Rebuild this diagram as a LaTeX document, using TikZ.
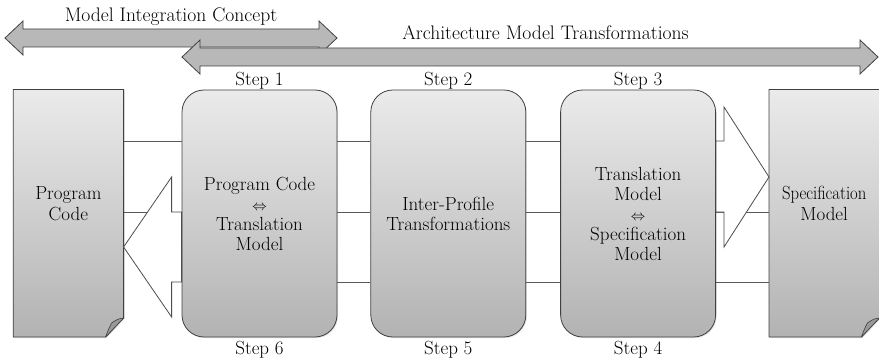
\documentclass[tikz,border=0pt]{standalone}
\usepackage{amsmath,amssymb}
\usepackage{graphicx}
\usepackage{tikz}
\usetikzlibrary{positioning,backgrounds,shadows}

\begin{document}
\begin{tikzpicture}[x=1pt, y=-1pt, font=\fontsize{19}{20}\selectfont, stepbox/.style={rectangle,draw=black!75,line width=0.8pt,rounded corners=22pt,top color=black!8,bottom color=black!30,minimum width=155pt,minimum height=247pt,align=center,drop shadow={shadow xshift=1pt,shadow yshift=-1pt,fill=black!25}}, docnode/.style={rectangle,minimum width=110pt,minimum height=228pt,align=center,font=\fontsize{19}{21}\selectfont}, docshade/.style={draw=black!75,line width=0.8pt,top color=black!8,bottom color=black!30,drop shadow={shadow xshift=1pt,shadow yshift=-1pt,fill=black!25}}, fold/.style={draw=black!75,line width=0.6pt,fill=black!40,line join=round}, steplabel/.style={inner sep=0pt}, spanlabel/.style={anchor=base,font=\fontsize{19.6}{22}\selectfont}, link/.style={draw=black!65,line width=0.8pt}, blockarrow/.style={draw=black!70,line width=0.8pt,fill=white}, spanarrow/.style={draw=black!75,line width=0.8pt,fill=black!28}]
\useasboundingbox (0,0) rectangle (879,361);
% the two spans on top
\draw[spanarrow] (5,38) -- (23,21) -- (23,29) -- (319,29) -- (319,21) -- (337,38) -- (319,55) -- (319,47) -- (23,47) -- (23,55) -- cycle;
\draw[spanarrow] (182,57) -- (200,40) -- (200,48) -- (860,48) -- (860,40) -- (878,57) -- (860,74) -- (860,66) -- (200,66) -- (200,74) -- cycle;
\node[spanlabel] (concept) at (171,21.7) {Model Integration Concept};
\node[spanlabel] (archi) at (545.5,40) {Architecture Model Transformations};
% steps
\node[stepbox] (box1) at (259.5,213.5) {Program Code\\{\fontsize{14}{20}\selectfont$\Leftrightarrow$}\\Translation\\Model};
\node[stepbox,right=33pt of box1] (box2) {Inter-Profile\\Transformations};
\node[stepbox,right=34pt of box2] (box3) {Translation\\Model\\{\fontsize{14}{20}\selectfont$\Leftrightarrow$}\\Specification\\Model};
\node[docnode,below left=0pt and 58pt of box1.north west] (code) {Program\\Code};
\node[docnode,below right=0pt and 53pt of box3.north east] (spec) {\scalebox{0.88}[1]{Specification}\\Model};
\node[steplabel,above=0pt of box1] (step1) {Step 1};
\node[steplabel,above=0pt of box2] (step2) {Step 2};
\node[steplabel,above=0pt of box3] (step3) {Step 3};
\node[steplabel,below=4pt of box1] (step6) {Step 6};
\node[steplabel,below=4pt of box2] (step5) {Step 5};
\node[steplabel,below=4pt of box3] (step4) {Step 4};
% documents with folded corner
\begin{scope}[on background layer]
\foreach \doc in {code,spec} {
  \shade[docshade] (\doc.north west) -- (\doc.north east) -- (\doc.south east) -- ([xshift=-18pt,yshift=-19pt]\doc.south east) -- ([yshift=-19pt]\doc.south west) -- cycle;
  \draw[fold] (\doc.south east) .. controls ([xshift=-6pt,yshift=-1pt]\doc.south east) .. ([xshift=-12pt,yshift=-5pt]\doc.south east) .. controls ([xshift=-15pt,yshift=-11pt]\doc.south east) .. ([xshift=-18pt,yshift=-19pt]\doc.south east) -- cycle;
}
\end{scope}
% connections
\foreach \dy in {72.5,1.5} \draw[link] ([yshift=\dy pt]box1.west -| code.east) -- ([yshift=\dy pt]box1.west);
\foreach \dy in {72.5,1.5,-68.5} {
  \draw[link] ([yshift=\dy pt]box1.east) -- ([yshift=\dy pt]box2.west);
  \draw[link] ([yshift=\dy pt]box2.east) -- ([yshift=\dy pt]box3.west);
}
\foreach \dy in {1.5,-68.5} \draw[link] ([yshift=\dy pt]box3.east) -- ([yshift=\dy pt]box3.east -| spec.west);
% big arrows
\draw[blockarrow] ([yshift=-33.5pt]box1.west -| code.east) -- ++(48,-70) -- ++(0,35) -- ([yshift=1.5pt]box1.west) -- ++(0,70) -- ++(-10,0) -- ++(0,35) -- cycle;
\draw[blockarrow] ([yshift=72.5pt]box3.east) -- ++(8,0) -- ++(0,-34) -- ([yshift=36.5pt]box3.east -| spec.west) -- ++(-45,70) -- ++(0,-35) -- ([yshift=1.5pt]box3.east) -- cycle;
\end{tikzpicture}
\end{document}
